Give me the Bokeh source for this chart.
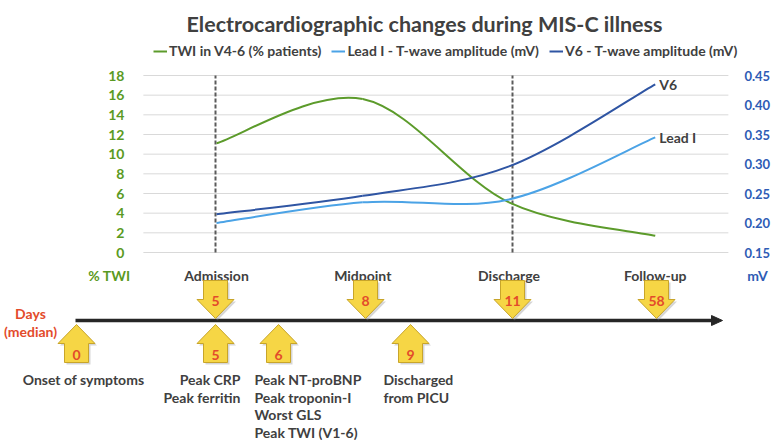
from bokeh.plotting import figure
from bokeh.models import (Range1d, LinearAxis, FixedTicker, NumeralTickFormatter,
                          Legend, LegendItem)
from bokeh.embed import file_html
from bokeh.resources import INLINE
from bokeh.core.properties import value

# ---------------- data ----------------
title = "Electrocardiographic changes during MIS-C illness"
categories = ["Admission", "Midpoint", "Discharge", "Follow-up"]
twi_pct = [11.1, 15.6, 5.1, 1.7]            # TWI in V4-6 (% patients)
lead_i_mv = [0.20, 0.235, 0.24, 0.345]      # Lead I T-wave amplitude (mV)
v6_mv = [0.215, 0.246, 0.296, 0.435]        # V6 T-wave amplitude (mV)
series_names = ["TWI in V4-6 (% patients)", "Lead I - T-wave amplitude (mV)",
                "V6 - T-wave amplitude (mV)"]
end_labels = ["Lead I", "V6"]
twi_ticks = [0, 2, 4, 6, 8, 10, 12, 14, 16, 18]
mv_ticks = [0.15, 0.20, 0.25, 0.30, 0.35, 0.40, 0.45]
axis_units = ["% TWI", "mV"]
dashed_at = ["Admission", "Discharge"]

days_label = ["Days", "(median)"]
days_down = [5, 8, 11, 58]                  # Admission, Midpoint, Discharge, Follow-up
days_up = [0, 5, 6, 9]
events_up = [["Onset of symptoms"],
             ["Peak CRP", "Peak ferritin"],
             ["Peak NT-proBNP", "Peak troponin-I", "Worst GLS", "Peak TWI (V1-6)"],
             ["Discharged", "from PICU"]]

# ---------------- layout constants (page px) ----------------
W, H = 772, 440
PX = 146.25                      # px per category step
CAT0 = 216                       # px of first category
Y_TOP_PX, Y_ZERO_PX = 75, 252    # px of 18 % and 0 %
PY = (Y_ZERO_PX - Y_TOP_PX) / (twi_ticks[-1] - twi_ticks[0])
PMV = (Y_ZERO_PX - Y_TOP_PX) / (mv_ticks[-1] - mv_ticks[0])


def u(px):   # page x px -> category units
    return (px - CAT0) / PX


def v(py):   # page y px -> TWI units
    return twi_ticks[0] + (Y_ZERO_PX - py) / PY


down_pos = [u(215), u(365), u(512), u(656)]
up_pos = [u(76), u(215), u(278), u(410)]
up_text_anchor = [("center", u(83)), ("right", u(240)), ("left", u(254)), ("left", u(383))]

GREEN = "#5c9b2b"
GREEN_T = "#5a9a22"
LBLUE = "#4ba3e6"
DBLUE = "#2f55a3"
BLUE_T = "#2e5cb5"
GRAY = "#404040"
RED = "#e34b2b"
FONT = "Lato"
NAN = float("nan")

p = figure(width=W, height=H,
           x_range=Range1d(u(0), u(W)),
           y_range=Range1d(v(H), v(0)),
           output_backend="svg", toolbar_location=None, min_border=0,
           x_axis_location=None, y_axis_location="left")
p.outline_line_color = None
p.grid.grid_line_color = None
p.extra_y_ranges = {"mv": Range1d(mv_ticks[0] - (H - Y_ZERO_PX) / PMV,
                                  mv_ticks[-1] + Y_TOP_PX / PMV)}

x_left, x_right = -0.5, len(categories) - 0.5

# left axis (fixed at the chart's left edge)
ya = p.yaxis[0]
ya.ticker = FixedTicker(ticks=twi_ticks)
ya.fixed_location = x_left
ya.axis_line_color = None
ya.major_tick_line_color = None
ya.minor_tick_line_color = None
ya.major_label_text_font = FONT
ya.major_label_text_font_style = "bold"
ya.major_label_text_font_size = "14px"
ya.major_label_text_color = GREEN_T
ya.major_label_standoff = 13

ra = LinearAxis(y_range_name="mv", ticker=FixedTicker(ticks=mv_ticks),
                formatter=NumeralTickFormatter(format="0.00"))
ra.fixed_location = x_right
ra.axis_line_color = None
ra.major_tick_line_color = None
ra.minor_tick_line_color = None
ra.major_label_text_font = FONT
ra.major_label_text_font_style = "bold"
ra.major_label_text_font_size = "13px"
ra.major_label_text_color = BLUE_T
ra.major_label_standoff = 10
p.add_layout(ra, "right")

# grid lines across the chart area
p.segment(x0=x_left, x1=x_right, y0=twi_ticks, y1=twi_ticks,
          line_color="#d9d9d9", line_width=1)

# dashed markers drawn at the timeline arrows of those phases
dx = [down_pos[categories.index(c)] for c in dashed_at]
p.segment(x0=dx, y0=twi_ticks[0], x1=dx, y1=twi_ticks[-1], line_color="#5a5a5a",
          line_width=2, line_dash="4 2")


def smooth(vals):
    n = len(vals)
    xs = list(range(n))
    out = dict(x0=[], y0=[], x1=[], y1=[], cx0=[], cy0=[], cx1=[], cy1=[])
    for i in range(n - 1):
        a, b = max(i - 1, 0), min(i + 2, n - 1)
        out["x0"].append(xs[i]); out["y0"].append(vals[i])
        out["x1"].append(xs[i + 1]); out["y1"].append(vals[i + 1])
        out["cx0"].append(xs[i] + (xs[i + 1] - xs[a]) / 6)
        out["cy0"].append(vals[i] + (vals[i + 1] - vals[a]) / 6)
        out["cx1"].append(xs[i + 1] - (xs[b] - xs[i]) / 6)
        out["cy1"].append(vals[i + 1] - (vals[b] - vals[i]) / 6)
    return out


p.bezier(**smooth(twi_pct), line_color=GREEN, line_width=2)
p.bezier(**smooth(lead_i_mv), line_color=LBLUE, line_width=2, y_range_name="mv")
p.bezier(**smooth(v6_mv), line_color=DBLUE, line_width=2, y_range_name="mv")

tk = dict(text_font=value(FONT), text_font_style="bold", text_font_size="14px",
          text_baseline="alphabetic")

last = len(categories) - 1
p.text(x=[last, last], y=[lead_i_mv[-1], v6_mv[-1]], text=end_labels,
       y_range_name="mv", x_offset=4, text_align="left", text_color=GRAY,
       **{**tk, "text_baseline": "middle"})

# title
p.text(x=[u(424)], y=[v(23)], text=[title], text_align="center", text_color=GRAY,
       **{**tk, "text_font_size": "21.5px"})

# legend (swatch-only renderers: a single NaN point draws nothing in the plot)
legend_r = [p.line([NAN], [NAN], line_color=c, line_width=2) for c in (GREEN, LBLUE, DBLUE)]
legend = Legend(items=[LegendItem(label=n, renderers=[r]) for n, r in zip(series_names, legend_r)],
                orientation="horizontal", location=(153, H - 59),
                border_line_color=None, background_fill_alpha=0,
                label_text_font=FONT, label_text_font_style="bold",
                label_text_font_size="14px", label_text_color=GRAY,
                glyph_width=14, glyph_height=14, label_standoff=2, spacing=10,
                padding=0, margin=0, label_height=14)
p.add_layout(legend, "center")

# category and unit labels
p.text(x=list(range(len(categories))), y=v(275), text=categories, text_align="center",
       text_color=GRAY, **tk)
p.text(x=[u(130)], y=[v(275)], text=[axis_units[0]], text_align="right", text_color=GREEN_T, **tk)
p.text(x=[u(757)], y=[v(275)], text=[axis_units[1]], text_align="center", text_color=BLUE_T, **tk)

# ---------------- timeline ----------------
p.text(x=[u(30), u(30)], y=[v(313), v(331)], text=days_label, text_align="center",
       text_color=RED, **tk)

p.segment(x0=[u(75)], y0=[v(320)], x1=[u(713)], y1=[v(320)], line_color="#262626",
          line_width=3.5)
p.patch(x=[u(711), u(722), u(711)], y=[v(315), v(320), v(325)],
        fill_color="#262626", line_color="#262626")

SW, HW = 12, 18.5


def down_arrow(cpx):
    xs = [cpx - SW, cpx + SW, cpx + SW, cpx + HW, cpx, cpx - HW, cpx - SW]
    ys = [280, 280, 299, 299, 318, 299, 299]
    return xs, ys


def up_arrow(cpx):
    xs = [cpx, cpx + HW, cpx + SW, cpx + SW, cpx - SW, cpx - SW, cpx - HW]
    ys = [324, 343, 343, 362, 362, 343, 343]
    return xs, ys


shapes = ([down_arrow(CAT0 + c * PX) for c in down_pos] +
          [up_arrow(CAT0 + c * PX) for c in up_pos])
p.patches(xs=[[u(x + 2) for x in s[0]] for s in shapes],
          ys=[[v(y + 2) for y in s[1]] for s in shapes],
          fill_color="#8a8a8a", fill_alpha=0.35, line_color=None)
p.patches(xs=[[u(x) for x in s[0]] for s in shapes],
          ys=[[v(y) for y in s[1]] for s in shapes],
          fill_color="#f6d645", line_color="#c8a52a", line_width=1)

p.text(x=down_pos, y=v(300.5), text=[str(d) for d in days_down], text_align="center",
       text_color=RED, **tk)
p.text(x=up_pos, y=v(354), text=[str(d) for d in days_up], text_align="center",
       text_color=RED, **tk)

for (align, ax_), lines in zip(up_text_anchor, events_up):
    p.text(x=[ax_] * len(lines), y=[v(379 + 17.5 * k) for k in range(len(lines))],
           text=lines, text_align=align, text_color=GRAY, **tk)

open("out.html", "w").write(file_html(p, INLINE))
